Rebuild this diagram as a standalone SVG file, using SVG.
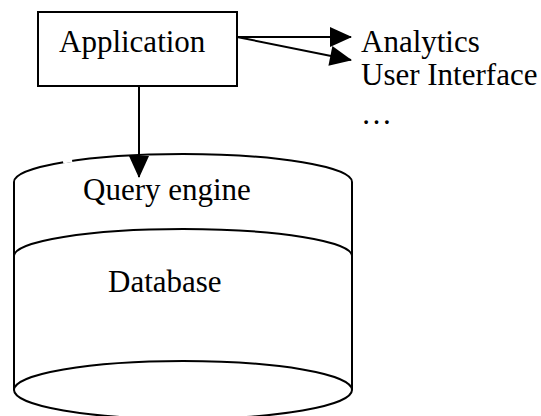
<svg xmlns="http://www.w3.org/2000/svg" width="541" height="416" viewBox="0 0 541 416">
  <style>
    .ln { fill: none; stroke: #000; stroke-width: 2; }
    .lbl { font-family: "Liberation Serif", "Times New Roman", serif; font-size: 31px; fill: #000; }
  </style>
  <defs>
    <marker id="head" markerUnits="userSpaceOnUse" markerWidth="22" markerHeight="20" refX="21" refY="10" orient="auto" overflow="visible">
      <path d="M0,0 L22,10 L0,20 z" fill="#000"/>
    </marker>
  </defs>
  <rect width="541" height="416" fill="#fff"/>

  <!-- application box -->
  <g id="application">
    <rect class="ln" x="38" y="12" width="199" height="74"/>
    <text class="lbl" x="59" y="52">Application</text>
  </g>

  <!-- consumers listed to the right -->
  <g id="consumers">
    <text class="lbl" x="361" y="52">Analytics</text>
    <text class="lbl" x="361" y="85">User Interface</text>
    <text class="lbl" x="361" y="124">…</text>
  </g>

  <!-- database cylinder with query engine layer -->
  <g id="database">
    <path class="ln" d="M14,182 A169,28 0 0 1 352,182"/>
    <line x1="63" y1="161.5" x2="72" y2="160" stroke="#fff" stroke-width="4"/>
    <path class="ln" d="M14,256 A169,27 0 0 1 352,256"/>
    <path class="ln" d="M14,182 V390 M352,182 V390"/>
    <ellipse class="ln" cx="183" cy="390" rx="169" ry="29"/>
    <text class="lbl" x="83" y="200">Query engine</text>
    <text class="lbl" x="108" y="292">Database</text>
  </g>

  <!-- connectors -->
  <g id="connectors">
    <line class="ln" x1="237" y1="37" x2="351" y2="37" marker-end="url(#head)"/>
    <line class="ln" x1="237" y1="37" x2="351" y2="60" marker-end="url(#head)"/>
    <line class="ln" x1="139" y1="86" x2="139" y2="177" marker-end="url(#head)"/>
  </g>
</svg>
